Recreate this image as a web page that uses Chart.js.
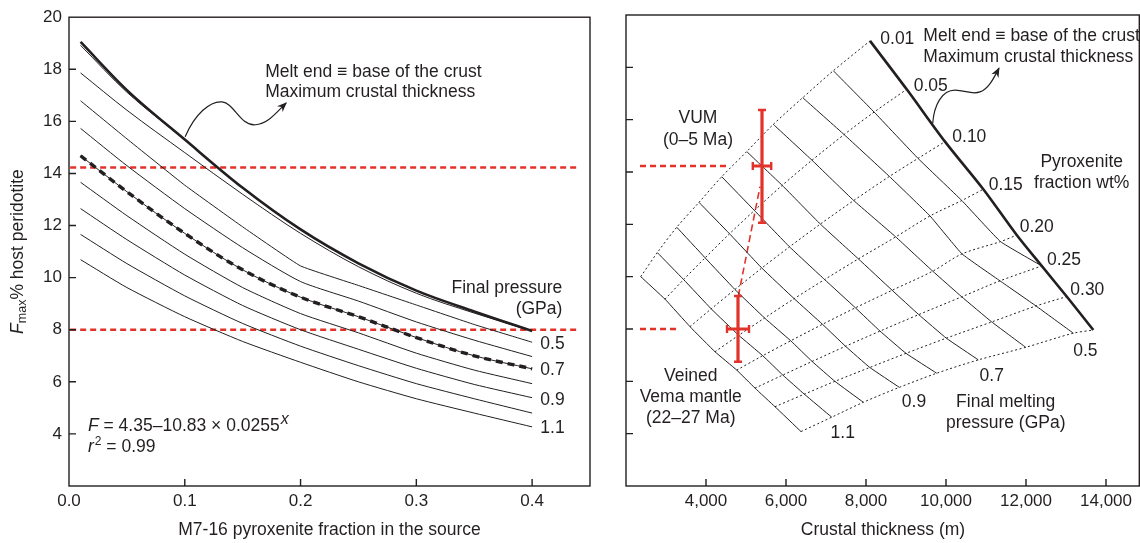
<!DOCTYPE html>
<html>
<head>
<meta charset="utf-8">
<script src="https://cdn.jsdelivr.net/npm/chart.js@4"></script>
<style>
  html, body { margin: 0; padding: 0; background: #fff; }
  #wrap { position: relative; width: 1140px; height: 543px; overflow: hidden; }
  .box { position: absolute; top: 0; height: 543px; }
</style>
</head>
<body>
<div id="wrap">
  <div class="box" style="left:0;width:600px"><canvas id="leftChart"></canvas></div>
  <div class="box" style="left:600px;width:540px"><canvas id="rightChart"></canvas></div>
</div>
<script>
const FONT = '"Liberation Sans", Arial, Helvetica, sans-serif';
const INK = "#231f20";
const RED = "#e2332a";

// ---- left panel: F max vs pyroxenite fraction, one curve per final pressure ----
const fracX = [0.01, 0.05, 0.10, 0.15, 0.20, 0.25, 0.30, 0.35, 0.40];
const fMeltEnd = [19.05, 17.2, 15.3, 13.45, 11.85, 10.55, 9.5, 8.7, 7.95];
const f03 = [18.92, 17.12, 15.3];
const f04 = [17.86, 16.43, 14.8, 13.2, 11.7, 10.42, 9.4, 8.64, 7.95];
const f05 = [16.79, 15.33, 13.55, 11.95, 10.45, 9.7, 8.95, 8.2, 7.52];
const f06 = [15.73, 14.3, 12.65, 11.15, 9.85, 9.1, 8.3, 7.6, 6.97];
const f07 = [14.68, 13.3, 11.7, 10.3, 9.25, 8.5, 7.7, 7.0, 6.5];
const f08 = [13.66, 12.38, 10.9, 9.62, 8.62, 7.88, 7.1, 6.45, 5.93];
const f09 = [12.65, 11.46, 10.1, 8.93, 8.0, 7.25, 6.52, 5.9, 5.39];
const f10 = [11.66, 10.54, 9.3, 8.24, 7.37, 6.62, 5.93, 5.35, 4.8];
const f11 = [10.69, 9.62, 8.5, 7.55, 6.75, 6.0, 5.35, 4.8, 4.27];

const leftXTicks = [0, 0.1, 0.2, 0.3, 0.4];
const yTicks = [4, 6, 8, 10, 12, 14, 16, 18, 20];

// observed F max levels (VUM and veined Vema mantle)
const refF = [14.23, 8.0];
const leftRefX = [0.001, 0.439];

// ---- right panel: crustal thickness (m) vs F max, grid nodes per pressure curve ----
const rFrac = [0.01, 0.05, 0.10, 0.15, 0.20, 0.25, 0.30, 0.40];
const rThkMelt = [8100, 9018, 9975, 10933, 11768, 12393, 13018, 13683];
const rFMelt   = [19.01, 17.16, 15.16, 13.34, 11.59, 10.41, 9.24, 7.96];
const rThk03 = [7183, 8203, 9300, 10395, 11363, 12393];
const rF03   = [17.87, 16.29, 14.52, 12.91, 11.34, 10.41];
const rThk04 = [6418, 7453, 8585, 9600, 10400, 11350, 12250, 13183];
const rF04   = [16.84, 15.43, 13.83, 12.32, 10.87, 9.84, 8.88, 7.84];
const rThk05 = [5683, 6650, 7693, 8743, 9668, 10393, 11143, 11993];
const rF05   = [15.82, 14.45, 12.91, 11.52, 10.21, 9.23, 8.27, 7.30];
const rThk06 = [5018, 5905, 6858, 7810, 8653, 9318, 10008, 10808];
const rF06   = [14.78, 13.49, 12.01, 10.68, 9.48, 8.55, 7.65, 6.82];
const rThk07 = [4393, 5210, 6088, 6965, 7735, 8350, 9000, 9768];
const rF07   = [13.82, 12.53, 11.14, 9.89, 8.81, 7.92, 7.07, 6.31];
const rThk08 = [3825, 4588, 5395, 6203, 6913, 7488, 8095, 8833];
const rF08   = [12.84, 11.64, 10.33, 9.16, 8.18, 7.34, 6.53, 5.77];
const rThk09 = [3268, 3978, 4723, 5465, 6118, 6653, 7223, 7933];
const rF09   = [11.89, 10.72, 9.51, 8.42, 7.55, 6.76, 6.00, 5.20];
const rThk10 = [2783, 3440, 4130, 4818, 5418, 5920, 6458, 7143];
const rF10   = [10.92, 9.89, 8.77, 7.76, 6.98, 6.24, 5.51, 4.63];
const rThk11 = [2368, 2975, 3600, 4225, 4768, 5225, 5725, 6375];
const rF11   = [10.00, 9.14, 8.09, 7.13, 6.43, 5.74, 5.03, 4.08];

const rightXTicks = [4000, 6000, 8000, 10000, 12000, 14000];
const rightRefX = [[2350, 4558], [2350, 3308]];

// samples with error bars
const sampleThk = [5400, 4800];
const sampleThkErr = [230, 275];
const sampleF = [14.23, 8.0];
const sampleFLo = [12.06, 6.75];
const sampleFHi = [16.37, 9.26];
const linkThk = [4808, 5350];
const linkF = [9.26, 13.44];

// ---- helpers ----
const pts = (xs, ys) => ys.map((y, i) => ({ x: xs[i], y }));

function line(data, width, extra) {
  return Object.assign({
    data, showLine: true, borderColor: INK, borderWidth: width,
    pointRadius: 0, tension: 0, fill: false
  }, extra || {});
}

function font(size, style) {
  return (style || "") + " " + size + "px " + FONT;
}

function drawFrame(chart, xt, yt) {
  const { ctx, chartArea: a, scales: { x, y } } = chart;
  ctx.save();
  ctx.strokeStyle = INK;
  ctx.lineWidth = 1.4;
  const r = Math.min(a.right, chart.width - 0.7);
  ctx.strokeRect(a.left, a.top, r - a.left, a.bottom - a.top);
  ctx.beginPath();
  xt.forEach(v => {
    const px = x.getPixelForValue(v);
    if (px - a.left < 2) return;
    ctx.moveTo(px, a.bottom); ctx.lineTo(px, a.bottom - 7);
  });
  yt.forEach(v => {
    const py = y.getPixelForValue(v);
    if (py - a.top < 2) return;
    ctx.moveTo(a.left, py); ctx.lineTo(a.left + 7, py);
  });
  ctx.stroke();
  ctx.restore();
}

function drawLabels(chart, list) {
  const { ctx, scales: { x, y } } = chart;
  ctx.save();
  ctx.fillStyle = INK;
  ctx.font = font(17.5);
  ctx.textBaseline = "middle";
  list.forEach(l => {
    ctx.textAlign = l.a || "center";
    ctx.fillText(l.t, x.getPixelForValue(l.x), y.getPixelForValue(l.y));
  });
  ctx.restore();
}

function drawArrow(chart, path) {
  const { ctx, scales: { x, y } } = chart;
  const P = path.map(p => [x.getPixelForValue(p[0]), y.getPixelForValue(p[1])]);
  ctx.save();
  ctx.strokeStyle = INK;
  ctx.fillStyle = INK;
  ctx.lineWidth = 1.2;
  ctx.beginPath();
  ctx.moveTo(P[0][0], P[0][1]);
  for (let i = 1; i + 2 < P.length; i += 3) {
    ctx.bezierCurveTo(P[i][0], P[i][1], P[i + 1][0], P[i + 1][1], P[i + 2][0], P[i + 2][1]);
  }
  ctx.stroke();
  const tip = P[P.length - 1], from = P[P.length - 2];
  const ang = Math.atan2(tip[1] - from[1], tip[0] - from[0]);
  ctx.translate(tip[0], tip[1]);
  ctx.rotate(ang);
  ctx.beginPath();
  ctx.moveTo(1, 0); ctx.lineTo(-9, -4); ctx.lineTo(-6, 0); ctx.lineTo(-9, 4);
  ctx.closePath();
  ctx.fill();
  ctx.restore();
}

const commonScale = {
  grid: { display: false, drawTicks: false },
  border: { display: false },
  ticks: { color: INK, font: { family: FONT, size: 17 }, autoSkip: false, maxRotation: 0 }
};

// ---- left chart ----
const leftLabels = [
  { t: "Melt end \u2261 base of the crust", x: 0.1694, y: 17.90, a: "left" },
  { t: "Maximum crustal thickness", x: 0.1694, y: 17.13, a: "left" },
  { t: "Final pressure", x: 0.4261, y: 9.61, a: "right" },
  { t: "(GPa)", x: 0.4261, y: 8.80, a: "right" },
  { t: "0.5", x: 0.4071, y: 7.43, a: "left" },
  { t: "0.7", x: 0.4071, y: 6.43, a: "left" },
  { t: "0.9", x: 0.4071, y: 5.29, a: "left" },
  { t: "1.1", x: 0.4071, y: 4.22, a: "left" }
];
const leftArrow = [
  [0.1003, 15.41], [0.1089, 16.29], [0.1219, 16.79], [0.1322, 16.75],
  [0.1426, 16.71], [0.1478, 15.83], [0.1608, 15.87],
  [0.1720, 15.91], [0.1789, 16.33], [0.1876, 16.71]
];

const leftDecor = {
  id: "leftDecor",
  afterDraw(chart) {
    drawFrame(chart, leftXTicks, yTicks);
    drawLabels(chart, leftLabels);
    drawArrow(chart, leftArrow);
    const { ctx, scales: { x, y } } = chart;
    // regression text
    ctx.save();
    ctx.fillStyle = INK;
    ctx.textBaseline = "middle";
    ctx.textAlign = "left";
    let px = x.getPixelForValue(0.0164), py = y.getPixelForValue(4.30);
    ctx.font = font(17.5, "italic"); ctx.fillText("F", px, py); px += ctx.measureText("F").width;
    ctx.font = font(17.5); const eq = " = 4.35\u201310.83 \u00d7 0.0255";
    ctx.fillText(eq, px, py); px += ctx.measureText(eq).width + 1;
    ctx.font = font(16, "italic"); ctx.fillText("x", px, py - 7);
    px = x.getPixelForValue(0.0164); py = y.getPixelForValue(3.49);
    ctx.font = font(17.5, "italic"); ctx.fillText("r", px, py); px += ctx.measureText("r").width + 1;
    ctx.font = font(12); ctx.fillText("2", px, py - 6); px += ctx.measureText("2").width;
    ctx.font = font(17.5); ctx.fillText(" = 0.99", px, py);
    // y axis title with subscript
    ctx.translate(18, (chart.chartArea.top + chart.chartArea.bottom) / 2);
    ctx.rotate(-Math.PI / 2);
    ctx.font = font(17.5, "italic"); const wF = ctx.measureText("F").width;
    ctx.font = font(12.5); const wM = ctx.measureText("max").width;
    ctx.font = font(17.5); const rest = "% host peridotite"; const wR = ctx.measureText(rest).width;
    let sx = -(wF + wM + wR) / 2;
    ctx.font = font(17.5, "italic"); ctx.fillText("F", sx, 0); sx += wF;
    ctx.font = font(12.5); ctx.fillText("max", sx, 5); sx += wM;
    ctx.font = font(17.5); ctx.fillText(rest, sx, 0);
    ctx.restore();
  }
};

const thin = { tension: 0.2 };
const smooth = { cubicInterpolationMode: "monotone" };
const leftSets = [
  line(pts(fracX, f11), 1, thin),
  line(pts(fracX, f10), 1, thin),
  line(pts(fracX, f09), 1, thin),
  line(pts(fracX, f08), 1, thin),
  line(pts(fracX, f07), 1, smooth),
  line(pts(fracX, f06), 1, thin),
  line(pts(fracX, f05), 1, { tension: 0.1 }),
  line(pts(fracX, f04), 1, smooth),
  line(pts(fracX, f03), 1, smooth),
  line(pts(fracX, f07), 3.4, Object.assign({ borderDash: [7, 5] }, smooth)),
  line(pts(fracX, fMeltEnd), 2.6, smooth),
  line(pts(leftRefX, [refF[0], refF[0]]), 2.4, { borderColor: RED, borderDash: [6, 4] }),
  line(pts(leftRefX, [refF[1], refF[1]]), 2.4, { borderColor: RED, borderDash: [6, 4] })
];

new Chart(document.getElementById("leftChart"), {
  type: "scatter",
  data: { datasets: leftSets },
  options: {
    responsive: true,
    maintainAspectRatio: false,
    animation: false,
    events: [],
    layout: { padding: { top: 15, right: 10, left: 0, bottom: 0 } },
    plugins: { legend: { display: false }, tooltip: { enabled: false } },
    scales: {
      x: Object.assign({}, commonScale, {
        type: "linear", min: 0, max: 0.45,
        afterBuildTicks: s => { s.ticks = leftXTicks.map(v => ({ value: v })); },
        afterFit: s => { s.height = 57; },
        ticks: Object.assign({}, commonScale.ticks, { padding: 5, callback: v => v.toFixed(1) }),
        title: { display: true, text: "M7-16 pyroxenite fraction in the source", color: INK,
                 font: { family: FONT, size: 17.5 }, padding: { top: 0, bottom: 2 } }
      }),
      y: Object.assign({}, commonScale, {
        type: "linear", min: 2, max: 20,
        afterBuildTicks: s => { s.ticks = yTicks.map(v => ({ value: v })); },
        afterFit: s => { s.width = 69; },
        ticks: Object.assign({}, commonScale.ticks, { padding: 7 })
      })
    }
  },
  plugins: [leftDecor]
});

// ---- right chart ----
const rightLabels = [
  { t: "VUM", x: 3800, y: 16.06 },
  { t: "(0\u20135 Ma)", x: 3800, y: 15.22 },
  { t: "Veined", x: 3618, y: 6.18 },
  { t: "Vema mantle", x: 3618, y: 5.38 },
  { t: "(22\u201327 Ma)", x: 3618, y: 4.59 },
  { t: "0.01", x: 8783, y: 19.07 },
  { t: "Melt end \u2261 base of the crust", x: 9433, y: 19.20, a: "left" },
  { t: "Maximum crustal thickness", x: 9433, y: 18.40, a: "left" },
  { t: "0.05", x: 9618, y: 17.29 },
  { t: "0.10", x: 10583, y: 15.33 },
  { t: "0.15", x: 11493, y: 13.50 },
  { t: "0.20", x: 12268, y: 11.91 },
  { t: "0.25", x: 12950, y: 10.64 },
  { t: "0.30", x: 13533, y: 9.49 },
  { t: "Pyroxenite", x: 13393, y: 14.36 },
  { t: "fraction wt%", x: 13393, y: 13.57 },
  { t: "0.5", x: 13483, y: 7.16 },
  { t: "0.7", x: 11143, y: 6.21 },
  { t: "0.9", x: 9200, y: 5.20 },
  { t: "1.1", x: 7418, y: 4.02 },
  { t: "Final melting", x: 11493, y: 5.19 },
  { t: "pressure (GPa)", x: 11493, y: 4.40 }
];
const rightArrow = [
  [9668, 15.86], [9700, 16.56], [9900, 17.13], [10225, 17.13],
  [10475, 17.13], [10650, 16.94], [10850, 17.06],
  [11050, 17.17], [11175, 17.52], [11325, 17.97]
];

const rightDecor = {
  id: "rightDecor",
  afterDraw(chart) {
    drawFrame(chart, rightXTicks, yTicks);
    drawLabels(chart, rightLabels);
    drawArrow(chart, rightArrow);
    const { ctx, scales: { x, y } } = chart;
    ctx.save();
    ctx.strokeStyle = RED;
    sampleThk.forEach((t, i) => {
      const cx = x.getPixelForValue(t), cy = y.getPixelForValue(sampleF[i]);
      const y0 = y.getPixelForValue(sampleFLo[i]), y1 = y.getPixelForValue(sampleFHi[i]);
      const x0 = x.getPixelForValue(t - sampleThkErr[i]), x1 = x.getPixelForValue(t + sampleThkErr[i]);
      ctx.lineWidth = 3.2;
      ctx.beginPath();
      ctx.moveTo(cx, y0); ctx.lineTo(cx, y1);
      ctx.moveTo(x0, cy); ctx.lineTo(x1, cy);
      ctx.stroke();
      ctx.lineWidth = 2.4;
      ctx.beginPath();
      ctx.moveTo(cx - 4, y0); ctx.lineTo(cx + 4, y0);
      ctx.moveTo(cx - 4, y1); ctx.lineTo(cx + 4, y1);
      ctx.moveTo(x0, cy - 4); ctx.lineTo(x0, cy + 4);
      ctx.moveTo(x1, cy - 4); ctx.lineTo(x1, cy + 4);
      ctx.stroke();
    });
    ctx.restore();
  }
};

const rCurves = [
  [rThk11, rF11], [rThk10, rF10], [rThk09, rF09], [rThk08, rF08], [rThk07, rF07],
  [rThk06, rF06], [rThk05, rF05], [rThk04, rF04], [rThk03, rF03]
];
const rightSets = [];
// dotted lines of constant pyroxenite fraction, through the grid nodes
rFrac.forEach((f, i) => {
  const d = [];
  rCurves.forEach(([xs, ys]) => { if (i < xs.length) d.push({ x: xs[i], y: ys[i] }); });
  d.push({ x: rThkMelt[i], y: rFMelt[i] });
  rightSets.push(line(d, 1, { borderDash: [2, 2.5], tension: 0.3 }));
});
rCurves.forEach(([xs, ys]) => rightSets.push(line(pts(xs, ys), 1, { tension: 0.1 })));
rightSets.push(line(pts(rThkMelt, rFMelt), 2.6, { tension: 0.3 }));
rightRefX.forEach((xr, i) => {
  rightSets.push(line(pts(xr, [refF[i], refF[i]]), 2.4, { borderColor: RED, borderDash: [6, 4] }));
});
rightSets.push(line(pts(linkThk, linkF), 1.6, { borderColor: RED, borderDash: [7, 4] }));

new Chart(document.getElementById("rightChart"), {
  type: "scatter",
  data: { datasets: rightSets },
  options: {
    responsive: true,
    maintainAspectRatio: false,
    animation: false,
    events: [],
    layout: { padding: { top: 15, right: 0, left: 0, bottom: 0 } },
    plugins: { legend: { display: false }, tooltip: { enabled: false } },
    scales: {
      x: Object.assign({}, commonScale, {
        type: "linear", min: 2000, max: 14850,
        afterBuildTicks: s => { s.ticks = rightXTicks.map(v => ({ value: v })); },
        afterFit: s => { s.height = 57; },
        ticks: Object.assign({}, commonScale.ticks, { padding: 5, callback: v => v.toLocaleString("en-US") }),
        title: { display: true, text: "Crustal thickness (m)", color: INK,
                 font: { family: FONT, size: 17.5 }, padding: { top: 0, bottom: 2 } }
      }),
      y: Object.assign({}, commonScale, {
        type: "linear", min: 2, max: 20,
        afterBuildTicks: s => { s.ticks = yTicks.map(v => ({ value: v })); },
        afterFit: s => { s.width = 26; },
        ticks: Object.assign({}, commonScale.ticks, { callback: () => "" })
      })
    }
  },
  plugins: [rightDecor]
});
</script>
</body>
</html>
